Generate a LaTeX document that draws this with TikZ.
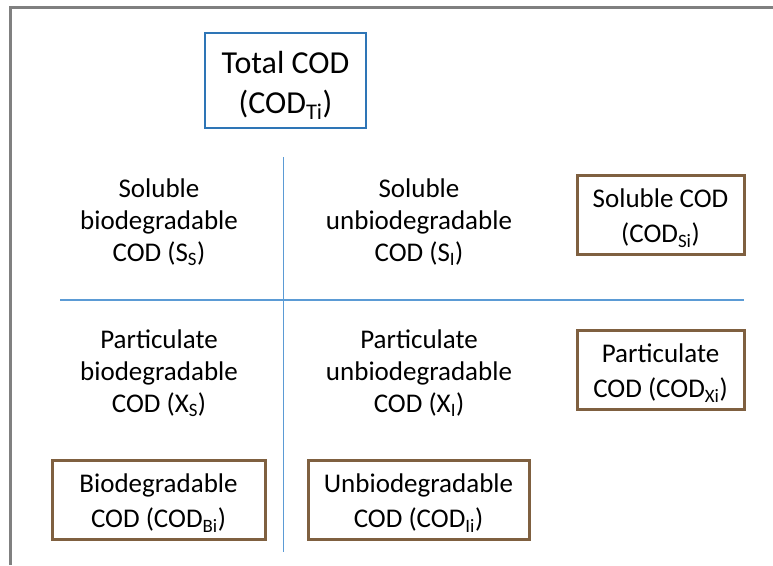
\documentclass[tikz,border=0pt]{standalone}
\usepackage{fontspec}
\setmainfont{Carlito}
\usepackage{tikz}

\definecolor{framegray}{RGB}{128,128,128}
\definecolor{totalblue}{RGB}{46,117,182}
\definecolor{lineblue}{RGB}{91,155,213}
\definecolor{boxbrown}{RGB}{127,96,64}

\newcommand{\topstrut}[1]{\rule{0pt}{#1}}

\begin{document}
\begin{tikzpicture}[x=1pt, y=-1pt,
    quadtext/.style={align=center, font=\fontsize{27}{32}\selectfont},
    codbox/.style={rectangle, draw=boxbrown, line width=3pt, align=center, inner sep=0pt,
        font=\fontsize{27}{35}\selectfont}]
    \useasboundingbox (0,0) rectangle (773,565);
    % Frame
    \draw[framegray, line width=2.2pt] (10.5,565) -- (10.5,7.5) -- (773,7.5);
    % Total
    \node [rectangle, draw=totalblue, line width=2.5pt, align=center, inner sep=0pt,
        minimum width=161pt, minimum height=95pt, font=\fontsize{32}{40}\selectfont]
        (total) at (285.5,80.5) {\topstrut{32pt}Total COD\\(COD\textsubscript{Ti})};
    % Dividers
    \draw[lineblue, line width=1.3pt] (283.5,157) -- (283.5,552);
    \draw[lineblue, line width=2pt] (60,299.5) -- (744,299.5);
    % Fractions
    \node [quadtext] (ss) at (159,222) {Soluble\\biodegradable\\COD (S\textsubscript{S})};
    \node [quadtext] (si) at (419,222) {Soluble\\unbiodegradable\\COD (S\textsubscript{I})};
    \node [quadtext] (xs) at (159,373) {Particulate\\biodegradable\\COD (X\textsubscript{S})};
    \node [quadtext] (xi) at (419,373) {Particulate\\unbiodegradable\\COD (X\textsubscript{I})};
    % Sums
    \node [codbox, minimum width=167pt, minimum height=79pt] (soluble) at (660.5,214.5)
        {\topstrut{26pt}Soluble COD\\(COD\textsubscript{Si})};
    \node [codbox, minimum width=167pt, minimum height=79pt] (partic) at (660.5,369.5)
        {\topstrut{26pt}Particulate\\COD (COD\textsubscript{Xi})};
    \node [codbox, minimum width=213pt, minimum height=79pt] (biodeg) at (158.5,499.5)
        {\topstrut{26pt}Biodegradable\\COD (COD\textsubscript{Bi})};
    \node [codbox, minimum width=221pt, minimum height=79pt] (unbio) at (418.5,499.5)
        {\topstrut{26pt}Unbiodegradable\\COD (COD\textsubscript{Ii})};
\end{tikzpicture}
\end{document}
